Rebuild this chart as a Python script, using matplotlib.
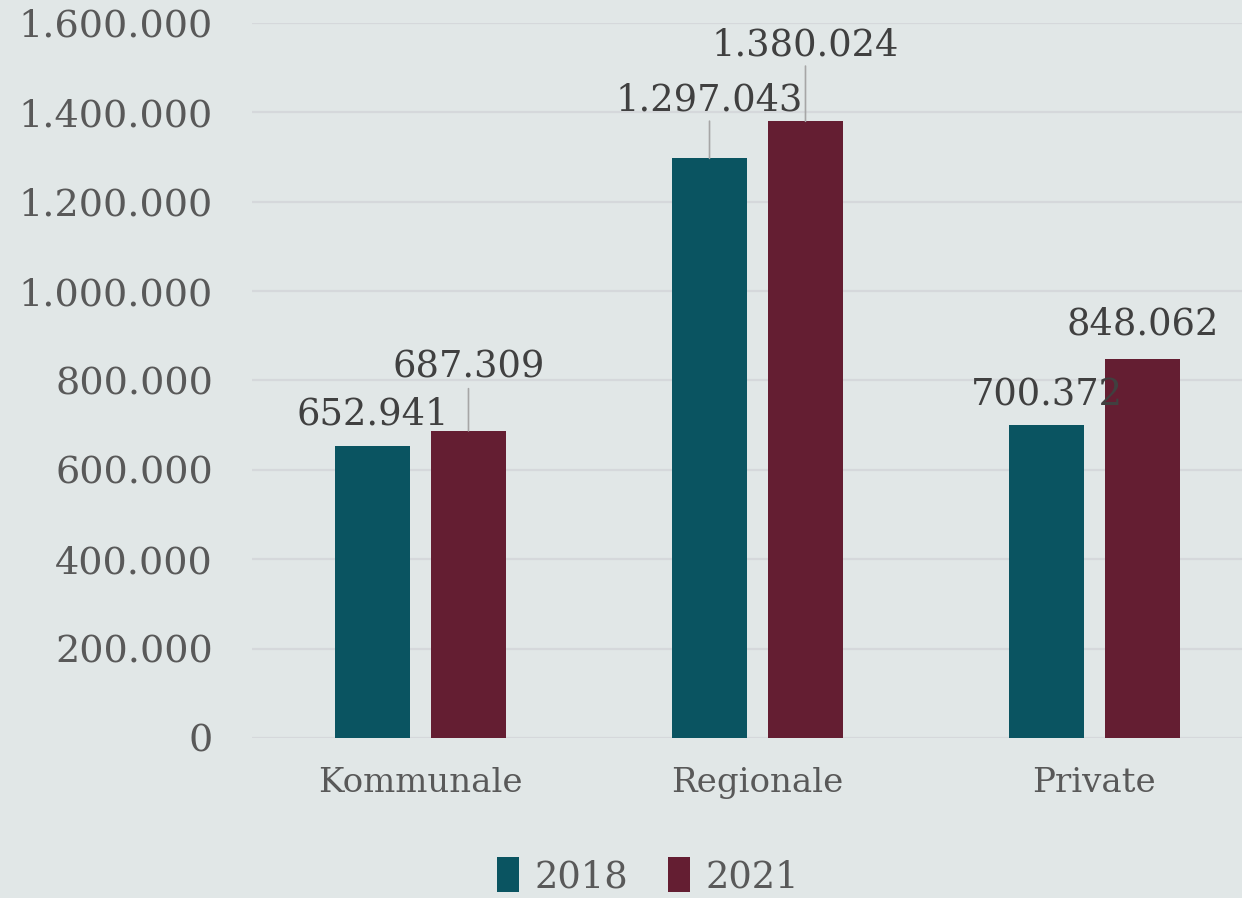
import numpy as np
import matplotlib
matplotlib.use("Agg")
import matplotlib.pyplot as plt
from matplotlib.ticker import FuncFormatter

## ------------- data ---------------####
categories = ["Kommunale", "Regionale", "Private"]
years = ["2018", "2021"]
values_2018 = [652941, 1297043, 700372]
values_2021 = [687309, 1380024, 848062]

# label offsets above bar top (pixels), and whether a leader line is drawn
label_offsets_2018 = [32, 58, 30]
label_offsets_2021 = [63, 76, 35]
leader_2018 = [False, True, False]
leader_2021 = [True, True, False]

bg = "#E1E7E7"
col_2018 = "#0A5461"
col_2021 = "#641E32"
grid_col = "#D5D8DB"
label_col = "#404040"
tick_col = "#595959"


def dot_thousands(v, pos=None):
    return f"{int(round(v)):,}".replace(",", ".")


plt.rcParams['font.family'] = ['DejaVu Serif']

fig = plt.figure(figsize=(12.42, 8.98), dpi=100, facecolor=bg)
ax = fig.add_axes([252 / 1242, 160 / 898, 1011 / 1242, 715 / 898])
ax.set_facecolor(bg)

x = np.arange(len(categories))
w = 0.2226
off = 0.1424
bars1 = ax.bar(x - off, values_2018, w, color=col_2018, label=years[0], zorder=3)
bars2 = ax.bar(x + off, values_2021, w, color=col_2021, label=years[1], zorder=3)

ax.set_xlim(-0.5, 2.5)
ax.set_ylim(0, 1_600_000)
ax.set_yticks(np.arange(0, 1_600_001, 200_000))
ax.yaxis.set_major_formatter(FuncFormatter(dot_thousands))
ax.set_xticks(x)
ax.set_xticklabels(categories)

ax.grid(axis="y", color=grid_col, lw=1.6, zorder=0)
ax.set_axisbelow(True)
for s in ax.spines.values():
    s.set_visible(False)
ax.tick_params(axis="y", length=0, pad=28, labelsize=27.5, labelcolor=tick_col)
ax.tick_params(axis="x", length=0, pad=21, labelsize=24.5, labelcolor=tick_col)


def add_labels(bars, vals, offsets, leaders):
    for b, v, d, lead in zip(bars, vals, offsets, leaders):
        xc = b.get_x() + b.get_width() / 2
        ap = None
        if lead:
            ap = dict(arrowstyle="-", color="#A6A6A6", lw=1.2, shrinkA=0, shrinkB=0)
        ax.annotate(dot_thousands(v), xy=(xc, v), xytext=(0, d),
                    textcoords="offset pixels", ha="center", va="center",
                    fontsize=26.5, color=label_col, arrowprops=ap, zorder=4)


add_labels(bars1, values_2018, label_offsets_2018, leader_2018)
add_labels(bars2, values_2021, label_offsets_2021, leader_2021)

leg = fig.legend(loc="center", bbox_to_anchor=(648 / 1242, 1 - 876 / 898),
                 ncol=2, frameon=False, fontsize=26.5, handlelength=0.6,
                 handleheight=1.1, handletextpad=0.4, columnspacing=1.1)
for t in leg.get_texts():
    t.set_color(tick_col)

fig.savefig("out.png", dpi=100, facecolor=bg)
